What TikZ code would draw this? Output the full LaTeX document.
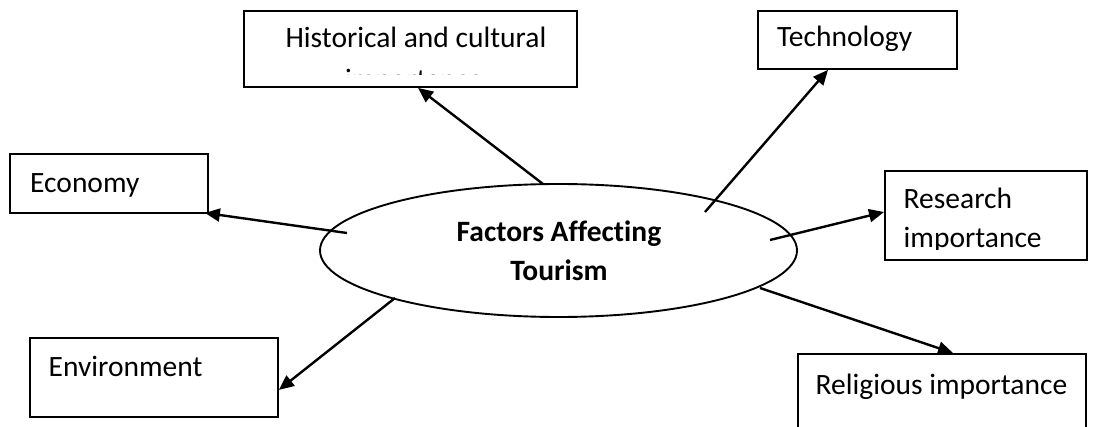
\documentclass[tikz,border=0pt]{standalone}
\usepackage{fontspec}
\setmainfont{Carlito}[Ligatures={NoCommon}]
\usetikzlibrary{arrows.meta,shapes.geometric}

\tikzset{
  box/.style={draw=black, line width=1.9pt, rectangle, inner sep=0pt, anchor=north west},
  label/.style={inner sep=0pt, font=\fontsize{29.5}{38.5}\selectfont},
  hub/.style={draw=black, line width=1.9pt, ellipse, inner sep=0pt,
              minimum width=477pt, minimum height=133pt},
  link/.style={line width=2.4pt, -{Triangle[length=15pt,width=13pt]}}
}

\begin{document}
\begin{tikzpicture}[x=1pt, y=-1pt]
  \clip (0,0) rectangle (1095,427);
  \fill[white] (0,0) rectangle (1095,427);

  % central ellipse
  \node[hub] (hub) at (558.5,250.5) {};
  \node[label, anchor=base, font=\fontsize{29.5}{38.5}\selectfont\bfseries] (hubtop) at (559,242) {Factors Affecting};
  \node[label, anchor=base, font=\fontsize{29.5}{38.5}\selectfont\bfseries] (hubbot) at (559,281) {Tourism};

  % factor boxes
  \node[box, minimum width=333pt, minimum height=76pt] (hist) at (243,10) {};
  \node[box, minimum width=199pt, minimum height=58pt] (tech) at (757,10) {};
  \node[box, minimum width=198pt, minimum height=59pt] (econ) at (9,153) {};
  \node[box, minimum width=202pt, minimum height=89pt] (res) at (884,170) {};
  \node[box, minimum width=248pt, minimum height=79pt] (env) at (29,337) {};
  \node[box, minimum width=288pt, minimum height=90pt] (rel) at (797,353) {};

  % box texts (second lines run past the box and are cut off)
  \node[label, anchor=base] (histA) at (416,48) {Historical and cultural};
  \begin{scope}
    \clip (244,11) rectangle (575,75);
    \node[label, anchor=base] (histB) at (414,90) {importance};
  \end{scope}
  \node[label, anchor=base west] (techT) at (777,47) {Technology};
  \node[label, anchor=base west] (econT) at (30,193) {Economy};
  \node[label, anchor=base west] (resA) at (903.5,209) {Research};
  \begin{scope}
    \clip (885,171) rectangle (1085,250);
    \node[label, anchor=base west] (resB) at (903.5,247.5) {importance};
  \end{scope}
  \node[label, anchor=base west] (envT) at (48.5,377) {Environment};
  \node[label, anchor=base west] (relT) at (815.5,395) {Religious importance};

  % connector start points on the ellipse rim
  \coordinate (sHist) at (543,184);
  \coordinate (sTech) at (705,212);
  \coordinate (sEcon) at (347,233);
  \coordinate (sEnv)  at (395,298);
  \coordinate (sRes)  at (770,240);
  \coordinate (sRel)  at (760,288);

  % connectors
  \draw[link] (sHist) -- ([xshift=175pt]hist.south west);
  \draw[link] (sTech) -- ([xshift=71pt]tech.south west);
  \draw[link] (sEcon) -- ([xshift=-4pt,yshift=1pt]econ.south east);
  \draw[link] (sEnv)  -- ([yshift=28pt]env.south east);
  \draw[link] (sRes)  -- ([yshift=-42pt]res.north west);
  \draw[link] (sRel)  -- ([xshift=156pt]rel.north west);
\end{tikzpicture}
\end{document}
